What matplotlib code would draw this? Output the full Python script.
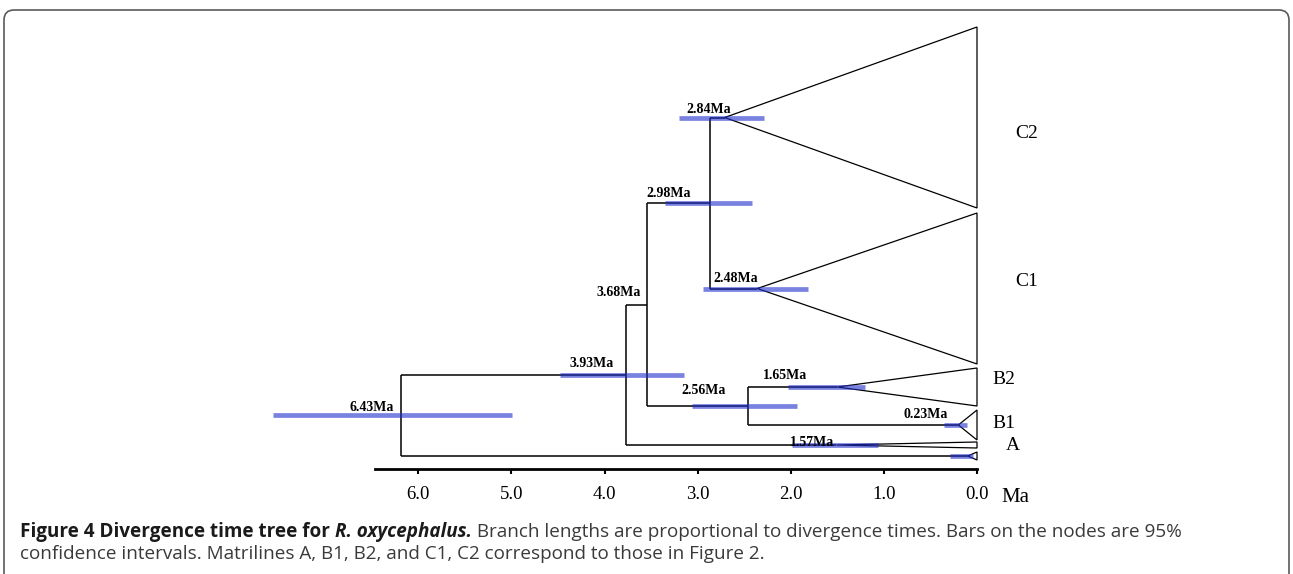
import matplotlib
matplotlib.use("Agg")
import matplotlib.pyplot as plt
from matplotlib.patches import Polygon, FancyBboxPatch
from matplotlib.transforms import IdentityTransform

# time axis (Ma)
tick_values = [6.0, 5.0, 4.0, 3.0, 2.0, 1.0, 0.0]
tick_labels = ["6.0", "5.0", "4.0", "3.0", "2.0", "1.0", "0.0"]

# collapsed clades: apex age as drawn, triangle top/bottom (rows, top = 0)
clade_ids = ["C2", "C1", "B2", "B1", "A", "out"]
clade_names = ["C2", "C1", "B2", "B1", "A", ""]
clade_ages = [2.71, 2.36, 1.50, 0.20, 1.51, 0.10]
clade_top = [27, 213, 368, 410, 442, 452]
clade_bottom = [208, 364, 406, 440, 448, 460]

# internal nodes
node_ids = ["n298", "n256", "n368", "n393", "root"]
node_children = [("C2", "C1"), ("B2", "B1"), ("n298", "n256"), ("n368", "A"), ("n393", "out")]
node_ages = [2.87, 2.46, 3.54, 3.77, 6.19]

# node age labels
label_nodes = ["root", "n393", "n368", "n298", "C2", "C1", "n256", "B2", "B1", "A"]
label_texts = ["6.43Ma", "3.93Ma", "3.68Ma", "2.98Ma", "2.84Ma", "2.48Ma", "2.56Ma", "1.65Ma", "0.23Ma", "1.57Ma"]

# 95% intervals on nodes (as drawn on the axis)
bar_nodes = ["root", "n393", "n298", "C2", "C1", "n256", "B2", "B1", "A", "out"]
bar_low = [7.56, 4.48, 3.35, 3.20, 2.94, 3.06, 2.03, 0.35, 1.99, 0.29]
bar_high = [4.99, 3.15, 2.42, 2.29, 1.82, 1.93, 1.20, 0.11, 1.06, 0.04]

# label placement (x in Ma, rise above the node row)
label_x = [6.50, 4.135, 3.845, 3.308, 2.879, 2.589, 2.932, 2.062, 0.548, 1.772]
label_rise = [4, 8, 8, 6, 4.5, 6, 12.5, 8, 7, -1]

serif = "Liberation Serif"
W, H = 1293, 574

fig = plt.figure(figsize=(W / 100, H / 100), dpi=100)
ax = fig.add_axes([375 / W, 1 - 469 / H, (977 - 375) / W, (469 - 20) / H])
ax.set_xlim((977 - 375) / 93.1, 0)
ax.set_ylim(469, 20)

# positions of every node
pos = {}
for cid, age, top, bot in zip(clade_ids, clade_ages, clade_top, clade_bottom):
    pos[cid] = (age, (top + bot) / 2)
for nid, ch, age in zip(node_ids, node_children, node_ages):
    y = (pos[ch[0]][1] + pos[ch[1]][1]) / 2
    pos[nid] = (age, y)

# branches
for nid, ch in zip(node_ids, node_children):
    x, _ = pos[nid]
    y1, y2 = pos[ch[0]][1], pos[ch[1]][1]
    ax.plot([x, x], [y1, y2], color="black", lw=1.1, clip_on=False, solid_capstyle="butt")
    for c in ch:
        ax.plot([x, pos[c][0]], [pos[c][1], pos[c][1]], color="black", lw=1.1,
                clip_on=False, solid_capstyle="butt")

# collapsed clade triangles
for cid, top, bot in zip(clade_ids, clade_top, clade_bottom):
    x, y = pos[cid]
    tri = Polygon([(x, y), (0, top), (0, bot)], closed=True, facecolor="white",
                  edgecolor="black", lw=0.9, clip_on=False)
    ax.add_patch(tri)

# interval bars (semi-transparent, so the branch shows through as navy)
for nid, lo, hi in zip(bar_nodes, bar_low, bar_high):
    y = pos[nid][1]
    ax.plot([lo, hi], [y, y], color="#212fcb", alpha=0.6, lw=3.4,
            solid_capstyle="butt", clip_on=False, zorder=3)

# age labels
for nid, txt, lx, rise in zip(label_nodes, label_texts, label_x, label_rise):
    ax.text(lx, pos[nid][1] - rise, txt, ha="center", va="baseline",
            fontsize=10, fontweight="bold", family=serif, zorder=4)

# clade names
name_x = [-0.41, -0.41, -0.16, -0.16, -0.31]
name_y = [134, 281, 380, 423, 445]
for name, nx, ny in zip(clade_names[:5], name_x, name_y):
    ax.text(nx, ny, name, ha="left", va="center", fontsize=14, family=serif)

# axis
for s in ["left", "right", "top"]:
    ax.spines[s].set_visible(False)
ax.spines["bottom"].set_linewidth(2)
ax.set_yticks([])
ax.set_xticks(tick_values)
ax.set_xticklabels(tick_labels, family=serif, fontsize=13.5)
ax.tick_params(axis="x", length=3.8, width=1.5, pad=8.5, direction="out")
ax.text(-0.41, 498, "Ma", ha="center", va="center", fontsize=15, family=serif,
        clip_on=False)

# frame around the figure panel
frame = FancyBboxPatch((4, -30), 1285, 564 + 30, boxstyle="round,pad=0,rounding_size=10",
                       transform=IdentityTransform(), facecolor="none",
                       edgecolor="#5a5a5a", lw=1.2)
fig.patches.append(frame)

# caption
cap_font = "Open Sans"
cap_size = 13.6
renderer = fig.canvas.get_renderer()


def draw_runs(x, y, runs):
    for s, weight, style, color in runs:
        t = fig.text(x, y, s, transform=IdentityTransform(), family=cap_font,
                     fontsize=cap_size, fontweight=weight, fontstyle=style,
                     color=color, va="center", ha="left")
        x += t.get_window_extent(renderer).width


draw_runs(20, H - 532, [
    ("Figure 4 Divergence time tree for ", "bold", "normal", "#1a1a1a"),
    ("R. oxycephalus.", "bold", "italic", "#1a1a1a"),
    (" Branch lengths are proportional to divergence times. Bars on the nodes are 95%",
     "normal", "normal", "#3a3a3a"),
])
draw_runs(20, H - 554, [
    ("confidence intervals. Matrilines A, B1, B2, and C1, C2 correspond to those in Figure 2.",
     "normal", "normal", "#3a3a3a"),
])

fig.savefig("out.png", dpi=100)
